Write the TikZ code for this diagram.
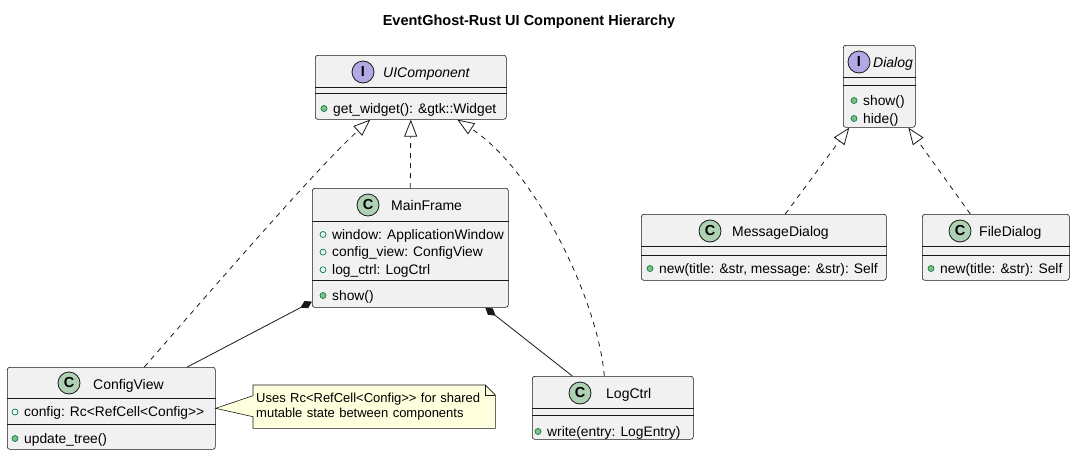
\documentclass[tikz,border=0pt]{standalone}
\usepackage{fontspec}
\setmainfont{Liberation Sans}
\usetikzlibrary{arrows.meta}

\definecolor{boxbg}{HTML}{F1F1F1}
\definecolor{linecol}{HTML}{181818}
\definecolor{classicon}{HTML}{ADD1B2}
\definecolor{ifaceicon}{HTML}{B4A7E5}
\definecolor{notebg}{HTML}{FEFFDD}
\definecolor{visgreen}{HTML}{038048}
\definecolor{visfill}{HTML}{84BE84}

\tikzset{
  classbox/.style={anchor=north west, draw=linecol, fill=boxbg, line width=0.6pt,
    rounded corners=2.5pt, inner sep=0pt},
  divider/.style={draw=linecol, line width=0.6pt},
  iconC/.style={circle, draw=linecol, fill=classicon, line width=0.8pt, minimum size=22pt,
    inner sep=0pt, font=\fontsize{14.5}{14.5}\selectfont\bfseries},
  iconI/.style={iconC, fill=ifaceicon},
  classname/.style={anchor=base west, inner sep=0pt, font=\fontsize{14}{17}\selectfont},
  membertext/.style={anchor=base west, inner sep=0pt, font=\fontsize{13.8}{17}\selectfont},
  fieldmark/.style={draw=visgreen, line width=0.7pt},
  methodmark/.style={draw=visgreen, fill=visfill, line width=0.7pt},
  realize/.style={draw=linecol, line width=0.8pt, dash pattern=on 5pt off 5pt,
    -{Triangle[open, length=17pt, width=13pt]}},
  compose/.style={draw=linecol, line width=0.8pt, -{Diamond[length=13pt, width=8pt]}},
  notebox/.style={anchor=north west, inner xsep=3pt, minimum width=242pt, minimum height=43pt,
    text width=236pt, align=left, font=\fontsize{13}{15}\selectfont}
}

% one divider inside a class box, #2 below its top
\newcommand{\divline}[2]{\draw[divider] ([yshift=-#2]#1.north west) -- ([yshift=-#2]#1.north east);}
% one member row: name, marker x, baseline, marker style, text
\newcommand{\member}[5]{%
  \draw[#4] (#2,#3-4.5) circle (3pt);
  \node[membertext] (#1) at (#2+9,#3) {#5};}

\begin{document}
\begin{tikzpicture}[x=1pt,y=-1pt]
\useasboundingbox (0,0) rectangle (1075,455);

% title
\node[anchor=base, inner sep=0pt, font=\fontsize{14.5}{17}\selectfont\bfseries] (title) at (529,25)
  {EventGhost-Rust UI Component Hierarchy};

% UIComponent
\node[classbox, minimum width=191pt, minimum height=64pt] (ui) at (315,55) {};
\divline{ui}{32}
\divline{ui}{38}
\node[iconI] (ui-icon) at (363,72) {I};
\node[classname, font=\fontsize{14}{17}\selectfont\itshape] (ui-name) at (383,77) {UIComponent};
\member{ui-m1}{324}{113}{methodmark}{get\_widget(): \&gtk::Widget}

% MainFrame
\node[classbox, minimum width=196pt, minimum height=119pt] (mainframe) at (312,188) {};
\divline{mainframe}{33}
\divline{mainframe}{92}
\node[iconC] (mainframe-icon) at (368,205) {C};
\node[classname] (mainframe-name) at (391,210) {MainFrame};
\member{mainframe-f1}{323}{239}{fieldmark}{window: ApplicationWindow}
\member{mainframe-f2}{323}{256.6}{fieldmark}{config\_view: ConfigView}
\member{mainframe-f3}{323}{274.2}{fieldmark}{log\_ctrl: LogCtrl}
\member{mainframe-m1}{323}{300}{methodmark}{show()}

% Dialog
\node[classbox, minimum width=72pt, minimum height=82pt] (dialog) at (843,45) {};
\divline{dialog}{32}
\divline{dialog}{40}
\node[iconI] (dialog-icon) at (859,62) {I};
\node[classname, font=\fontsize{14}{17}\selectfont\itshape] (dialog-name) at (873,67) {Dialog};
\member{dialog-m1}{854}{105}{methodmark}{show()}
\member{dialog-m2}{854}{123}{methodmark}{hide()}

% MessageDialog
\node[classbox, minimum width=245pt, minimum height=66pt] (msgdlg) at (641,214) {};
\divline{msgdlg}{32}
\divline{msgdlg}{41}
\node[iconC] (msgdlg-icon) at (710,231) {C};
\node[classname] (msgdlg-name) at (732,236) {MessageDialog};
\member{msgdlg-m1}{650}{273}{methodmark}{new(title: \&str, message: \&str): Self}

% FileDialog
\node[classbox, minimum width=147pt, minimum height=66pt] (filedlg) at (922,214) {};
\divline{filedlg}{32}
\divline{filedlg}{41}
\node[iconC] (filedlg-icon) at (960,231) {C};
\node[classname] (filedlg-name) at (979,236) {FileDialog};
\member{filedlg-m1}{931}{273}{methodmark}{new(title: \&str): Self}

% ConfigView
\node[classbox, minimum width=208pt, minimum height=82pt] (cfgview) at (7,367) {};
\divline{cfgview}{31}
\divline{cfgview}{57}
\node[iconC] (cfgview-icon) at (69,383) {C};
\node[classname] (cfgview-name) at (93,389) {ConfigView};
\member{cfgview-f1}{15}{416.5}{fieldmark}{config: Rc<RefCell<Config>{}>}
\member{cfgview-m1}{15}{443}{methodmark}{update\_tree()}

% LogCtrl
\node[classbox, minimum width=161pt, minimum height=63pt] (logctrl) at (532,376) {};
\divline{logctrl}{32}
\divline{logctrl}{39}
\node[iconC] (logctrl-icon) at (580,393) {C};
\node[classname] (logctrl-name) at (606,398) {LogCtrl};
\member{logctrl-m1}{538}{436}{methodmark}{write(entry: LogEntry)}

% note
\node[notebox] (note) at (253,385) {Uses Rc<RefCell<Config>{}> for shared\\mutable state between components};
\fill[notebg] (note.north west) -- ([xshift=-10]note.north east) -- ([yshift=-10]note.north east)
  -- (note.south east) -- (note.south west) -- cycle;
\draw[divider] (note.north west) -- ([xshift=-10]note.north east) -- ([yshift=-10]note.north east)
  -- (note.south east) -- (note.south west) -- cycle;
\draw[divider] ([xshift=-10]note.north east) -- ([xshift=-10,yshift=-10]note.north east)
  -- ([yshift=-10]note.north east);
\fill[notebg] (cfgview.east) -- ([xshift=1,yshift=11]note.west) -- ([xshift=1,yshift=-10]note.west) -- cycle;
\draw[divider] ([yshift=11]note.west) -- (cfgview.east) -- ([yshift=-10]note.west);
\node[notebox] (note-text) at (253,385) {Uses Rc<RefCell<Config>{}> for shared\\mutable state between components};

% realizations
\draw[realize] ([xshift=33]cfgview.north) .. controls (220,280) and (320,165) .. ([xshift=-40.5]ui.south);
\draw[realize] (mainframe.north) -- (ui.south);
\draw[realize] ([xshift=-8.5]logctrl.north) .. controls (598,300) and (535,170) .. ([xshift=46.5]ui.south);
\draw[realize] ([xshift=21.5]msgdlg.north) -- ([xshift=-30]dialog.south);
\draw[realize] ([xshift=-25.5]filedlg.north) -- ([xshift=29]dialog.south);

% compositions
\draw[compose] ([xshift=76]cfgview.north) -- ([yshift=6]mainframe.south west);
\draw[compose] ([xshift=-40.5]logctrl.north) -- ([xshift=75]mainframe.south);

\end{tikzpicture}
\end{document}
